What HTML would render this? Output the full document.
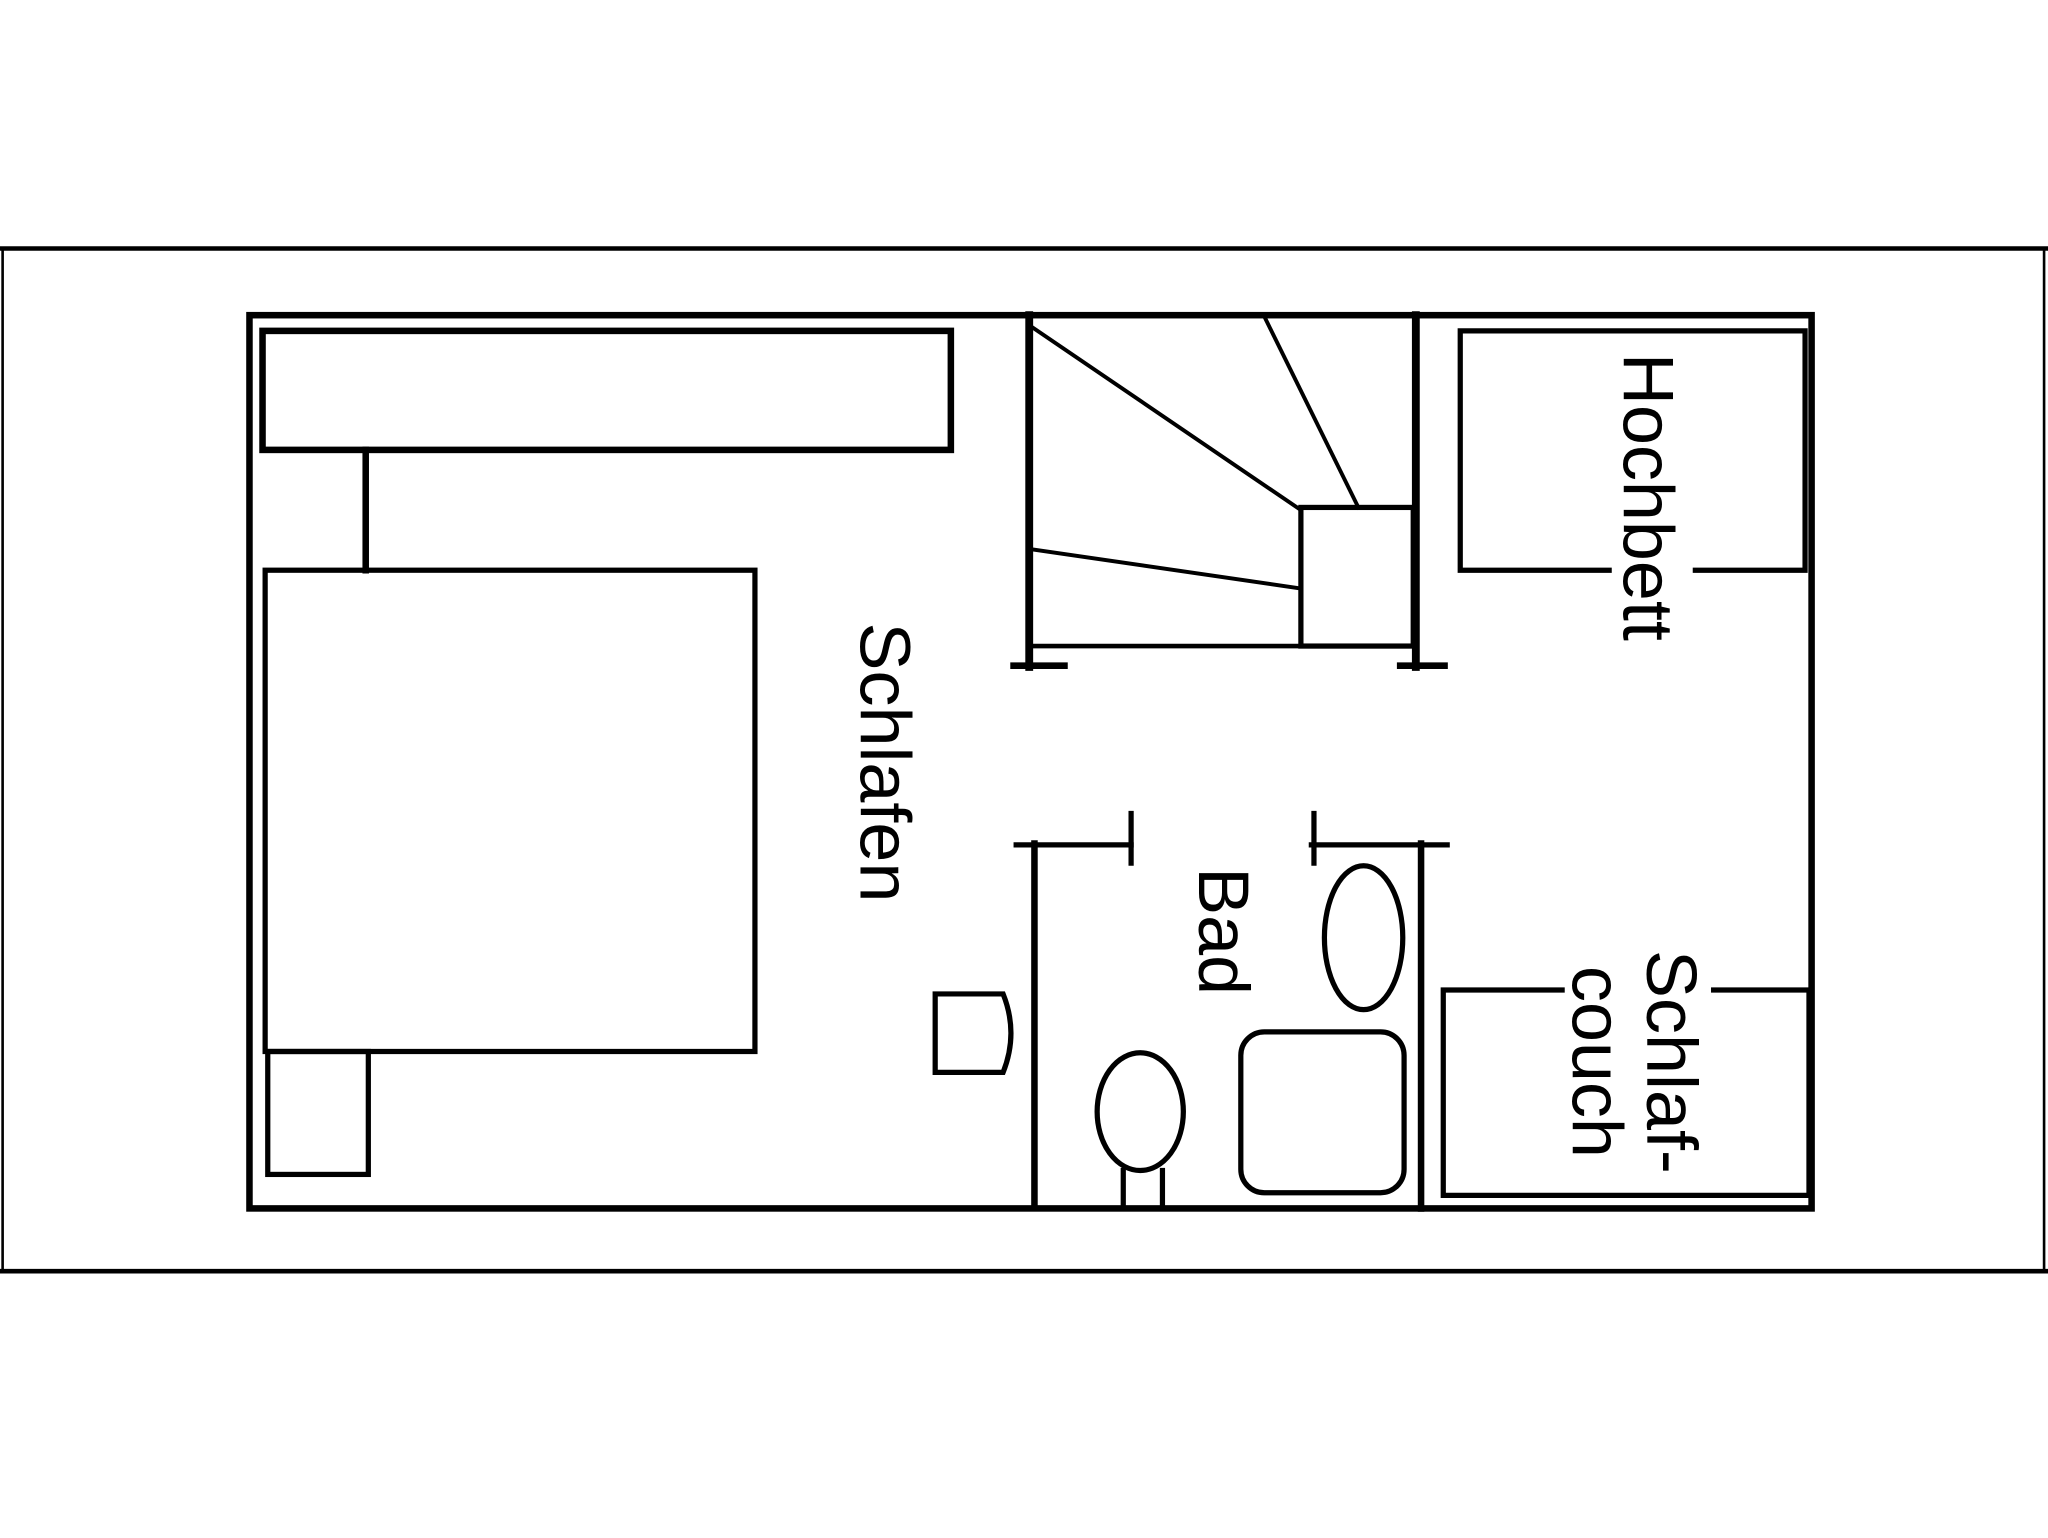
<!DOCTYPE html>
<html><head><meta charset="utf-8"><style>
html,body{margin:0;padding:0;background:#fff;}
svg{display:block;}
text{font-family:"Liberation Sans",sans-serif;font-size:55px;fill:#000;}
</style></head><body>
<svg width="2048" height="1538" viewBox="0 0 1568 1176" preserveAspectRatio="none" xmlns="http://www.w3.org/2000/svg">
<rect width="1568" height="1176" fill="#fff"/>
<g stroke="#000" fill="none" stroke-linecap="square">
<line x1="0" y1="190" x2="1568" y2="190" stroke-width="3.5"/>
<line x1="0" y1="972" x2="1568" y2="972" stroke-width="3.5"/>
<line x1="2" y1="190" x2="2" y2="972" stroke-width="2"/>
<line x1="1565" y1="190" x2="1565" y2="972" stroke-width="2"/>
<rect x="191" y="241" width="1196" height="683" stroke-width="5"/>
<rect x="201" y="253" width="527" height="91" stroke-width="5"/>
<line x1="280" y1="344" x2="280" y2="436" stroke-width="5"/>
<rect x="203" y="436" width="375" height="368" stroke-width="4"/>
<rect x="205" y="804" width="77" height="94" stroke-width="4"/>
<line x1="788" y1="241" x2="788" y2="510" stroke-width="6"/>
<line x1="1084" y1="241" x2="1084" y2="510" stroke-width="6"/>
<line x1="788" y1="494" x2="1084" y2="494" stroke-width="3.5"/>
<line x1="776" y1="509" x2="815" y2="509" stroke-width="5"/>
<line x1="1072" y1="509" x2="1106" y2="509" stroke-width="5"/>
<line x1="790" y1="250" x2="996" y2="390" stroke-width="3"/>
<line x1="968" y1="242" x2="1040" y2="388" stroke-width="3"/>
<line x1="790" y1="420" x2="996" y2="450" stroke-width="3"/>
<rect x="996" y="388" width="86" height="106" stroke-width="4"/>
<polyline points="1232,436 1118,436 1118,253 1382,253 1382,436 1298,436" stroke-width="4"/>
<line x1="792" y1="645" x2="792" y2="920" stroke-width="5"/>
<line x1="778" y1="646" x2="866" y2="646" stroke-width="4"/>
<line x1="866" y1="622" x2="866" y2="660" stroke-width="4"/>
<line x1="1088" y1="645" x2="1088" y2="924" stroke-width="5"/>
<line x1="1004" y1="646" x2="1108" y2="646" stroke-width="4"/>
<line x1="1006" y1="622" x2="1006" y2="660" stroke-width="4"/>
<ellipse cx="1044" cy="717" rx="30" ry="55" stroke-width="4"/>
<ellipse cx="873" cy="850" rx="33" ry="45" stroke-width="4"/>
<line x1="860" y1="895" x2="860" y2="920" stroke-width="4"/>
<line x1="890" y1="895" x2="890" y2="920" stroke-width="4"/>
<rect x="950" y="789" width="125" height="123" rx="18" stroke-width="4"/>
<path d="M716,760 L768,760 Q780,790 768,820 L716,820 Z" stroke-width="4"/>
<polyline points="1196,757 1105,757 1105,914 1385,914 1385,757 1312,757" stroke-width="4"/>
</g>
<text transform="translate(1243,380) rotate(90)" text-anchor="middle">Hochbett</text>
<text transform="translate(659,583) rotate(90)" text-anchor="middle">Schlafen</text>
<text transform="translate(918,712) rotate(90)" text-anchor="middle">Bad</text>
<text transform="translate(1261,812) rotate(90)" text-anchor="middle">Schlaf-</text>
<text transform="translate(1204,812) rotate(90)" text-anchor="middle">couch</text>
</svg>
</body></html>
